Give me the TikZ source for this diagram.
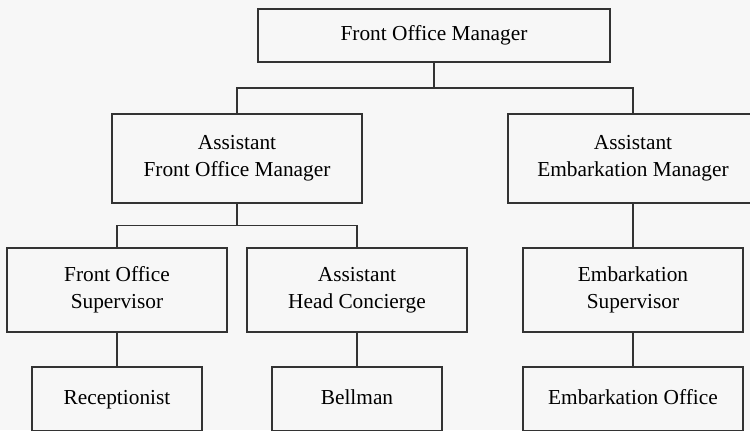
\documentclass[tikz,border=0pt]{standalone}
\usepackage{fontspec}
\setmainfont{Liberation Serif}
\usetikzlibrary{positioning}
\usetikzlibrary{calc}

\begin{document}
\begin{tikzpicture}
[   x=0.75pt,
    y=-0.75pt,
    font = \fontsize{16}{20}\selectfont,
    inner sep=0pt,
    outer sep=0pt,
    line width=0.9pt,
    draw=black!80,
    role/.style={draw=black!80, align=center, minimum width=165pt, minimum height=63pt},
    head/.style={role, minimum width=187.5pt, minimum height=66.75pt},
    staff/.style={role, minimum width=127.5pt, minimum height=48pt, text height=11pt, text depth=3.5pt}
]

\useasboundingbox (0,0) rectangle (750,430);
\fill[black!3] (0,0) rectangle (750,430);
\clip (0,0) rectangle (750,430);

\node (fom)  [role, minimum width=264pt, minimum height=39.75pt] at (434,35.5) {Front Office Manager};
\node (afom) [head] at (237,158.5) {Assistant\\Front Office Manager};
\node (aem)  [head] at (633,158.5) {Assistant\\Embarkation Manager};

\node (fos)  [role] at (117,290) {Front Office\\Supervisor};
\node (ahc)  [role] at (357,290) {Assistant\\Head Concierge};
\node (es)   [role] at (633,290) {Embarkation\\Supervisor};

\node (rec)  [staff] at (117,399) {Receptionist};
\node (bell) [staff] at (357,399) {Bellman};
\node (eo)   [staff, minimum width=165pt] at (633,399) {Embarkation Office};

% reporting lines
\draw (fom.south) |- ($(fom.south)!.5!(afom.north)$) -| (afom.north);
\draw (fom.south) |- ($(fom.south)!.5!(aem.north)$) -| (aem.north);
\draw (afom.south) |- ($(afom.south)!.5!(fos.north)$) -| (fos.north);
\draw (afom.south) |- ($(afom.south)!.5!(ahc.north)$) -| (ahc.north);
\draw (aem.south) -- (es.north);
\draw (fos.south) -- (rec.north);
\draw (ahc.south) -- (bell.north);
\draw (es.south) -- (eo.north);
\end{tikzpicture}
\end{document}
